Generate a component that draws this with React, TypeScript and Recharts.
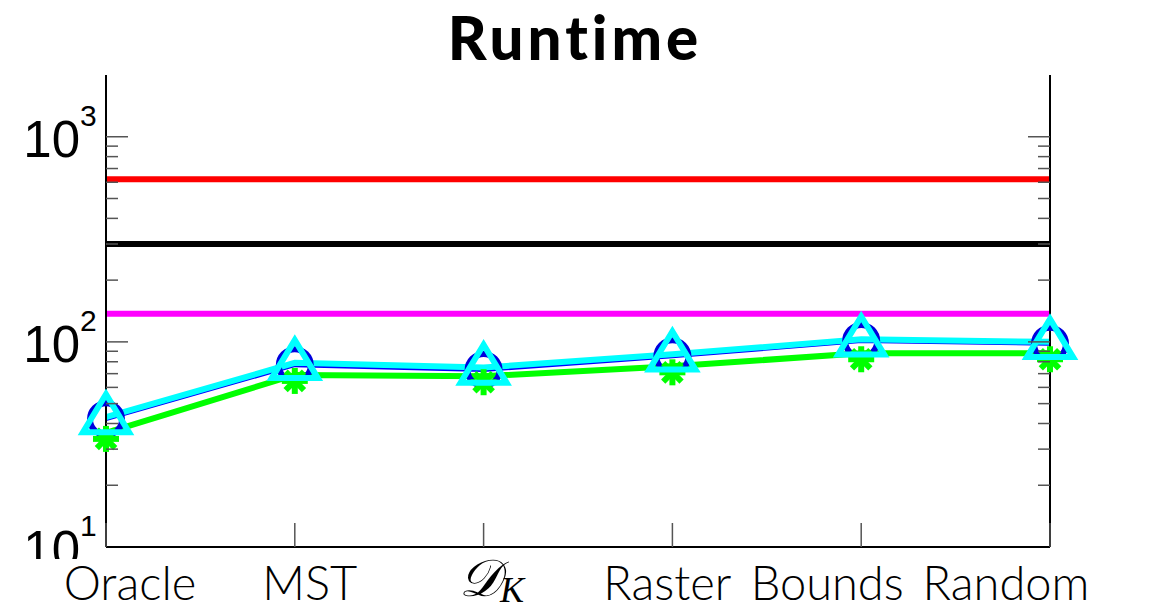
import React from 'react';
import { LineChart, Line, XAxis, YAxis, ReferenceLine } from 'recharts';

const categories = ['Oracle', 'MST', 'DK', 'Raster', 'Bounds', 'Random'];
const blueValues = [42, 77, 73, 85, 101, 98];
const cyanValues = [43, 79, 75, 87, 103, 100];
const greenValues = [36, 69, 68, 76, 88, 88];
const redLevel = 620;
const blackLevel = 300;
const magentaLevel = 137;
const yTicks = [10, 20, 30, 40, 50, 60, 70, 80, 90, 100, 200, 300, 400, 500, 600, 700, 800, 900, 1000];
const majorTicks = [10, 100, 1000];
const yDomain = [10, 2000];

const data = categories.map((c, i) => ({
  cat: c,
  blue: blueValues[i],
  cyan: cyanValues[i],
  green: greenValues[i],
}));

// label horizontal offsets relative to tick (style only)
const labelDx: Record<string, number> = { Oracle: 24, MST: 15, DK: 8, Raster: -5, Bounds: -34, Random: -44 };

const TICK_COLOR = '#555';
const LABEL_FONT = 'Lato, "Open Sans", sans-serif';

const LeftTick = (props: any) => {
  const { x, y, payload } = props;
  const v = payload.value;
  const major = majorTicks.includes(v);
  const exp = Math.round(Math.log10(v));
  const clipId = 'clip-' + v;
  return (
    <g>
      {v !== 10 && (
        <line x1={x} y1={y} x2={x + (major ? 22 : 12)} y2={y} stroke={TICK_COLOR} strokeWidth={1.5} />
      )}
      {major && (
        <g clipPath={v === 10 ? `url(#${clipId})` : undefined}>
          {v === 10 && (
            <defs>
              <clipPath id={clipId}>
                <rect x={0} y={0} width={200} height={y + 12} />
              </clipPath>
            </defs>
          )}
          <text x={x - 26} y={y + 20} textAnchor="end" fontFamily='"Liberation Sans", Arial, sans-serif' fontSize={51} fill="#000">
            10
          </text>
          <text x={x - 26} y={y - 11} textAnchor="start" fontFamily='"Liberation Sans", Arial, sans-serif' fontSize={30} fill="#000">
            {exp}
          </text>
        </g>
      )}
    </g>
  );
};

const RightTick = (props: any) => {
  const { x, y, payload } = props;
  const v = payload.value;
  if (v === 10) return <g />;
  const major = majorTicks.includes(v);
  return <line x1={x} y1={y} x2={x - (major ? 22 : 12)} y2={y} stroke={TICK_COLOR} strokeWidth={1.5} />;
};

const BottomTick = (props: any) => {
  const { x, y, payload } = props;
  const v = payload.value as string;
  const lx = x + (labelDx[v] ?? 0);
  return (
    <g>
      <line x1={x} y1={y} x2={x} y2={y - 24} stroke={TICK_COLOR} strokeWidth={1.5} />
      {v === 'DK' ? (
        <text x={lx} y={y + 49} textAnchor="middle" fill="#000">
          <tspan fontFamily='"DejaVu Serif", serif' fontStyle="italic" fontSize={52}>𝒟</tspan>
          <tspan fontFamily='"Liberation Serif", serif' fontStyle="italic" fontSize={36} dy={6}>K</tspan>
        </text>
      ) : (
        <text x={lx} y={y + 53} textAnchor="middle" fontFamily={LABEL_FONT} fontWeight={300} fontSize={47} fill="#000">
          {v}
        </text>
      )}
    </g>
  );
};

const TopTick = (props: any) => {
  const { x, y } = props;
  return <line x1={x} y1={y} x2={x} y2={y + 23} stroke={TICK_COLOR} strokeWidth={1.5} />;
};

const CircleDot = (props: any) => {
  const { cx, cy, index } = props;
  return <circle key={'c' + index} cx={cx} cy={cy} r={16} fill="none" stroke="#0000dd" strokeWidth={6} />;
};

const TriangleDot = (props: any) => {
  const { cx, cy, index } = props;
  const h = 38;
  const w = 46;
  const pts = `${cx},${cy - h * 0.6} ${cx - w / 2},${cy + h * 0.4} ${cx + w / 2},${cy + h * 0.4}`;
  return <polygon key={'t' + index} points={pts} fill="none" stroke="#00ffff" strokeWidth={6} strokeLinejoin="miter" />;
};

const StarDot = (props: any) => {
  const { cx, cy, index } = props;
  const r = 13;
  const c = cy + 6;
  const d = r * 0.707;
  return (
    <g key={'s' + index} stroke="#00ff00" strokeWidth={6}>
      <line x1={cx} y1={c - r} x2={cx} y2={c + r} />
      <line x1={cx - r} y1={c} x2={cx + r} y2={c} />
      <line x1={cx - d} y1={c - d} x2={cx + d} y2={c + d} />
      <line x1={cx - d} y1={c + d} x2={cx + d} y2={c - d} />
    </g>
  );
};

export default function App() {
  return (
    <div style={{ position: 'absolute', left: 0, top: 0, width: 1162, height: 609, background: '#fff' }}>
      <LineChart width={1162} height={609} data={data} margin={{ top: 75, right: 0, bottom: 0, left: 6 }}>
        <XAxis
          dataKey="cat"
          xAxisId="b"
          interval={0}
          height={62}
          tickSize={0}
          tickMargin={0}
          tickLine={false}
          tick={<BottomTick />}
          axisLine={{ stroke: '#000', strokeWidth: 2 }}
        />
        <XAxis
          dataKey="cat"
          xAxisId="t"
          orientation="top"
          interval={0}
          height={0}
          tickSize={0}
          tickMargin={0}
          tickLine={false}
          tick={<TopTick />}
          axisLine={{ stroke: '#000', strokeWidth: 2 }}
        />
        <YAxis
          yAxisId="l"
          scale="log"
          domain={yDomain}
          ticks={yTicks}
          interval={0}
          allowDataOverflow
          width={100}
          tickSize={0}
          tickMargin={0}
          tickLine={false}
          tick={<LeftTick />}
          axisLine={{ stroke: '#000', strokeWidth: 2 }}
        />
        <YAxis
          yAxisId="r"
          orientation="right"
          scale="log"
          domain={yDomain}
          ticks={yTicks}
          interval={0}
          allowDataOverflow
          width={112}
          tickSize={0}
          tickMargin={0}
          tickLine={false}
          tick={<RightTick />}
          axisLine={{ stroke: '#000', strokeWidth: 2 }}
        />
        <ReferenceLine xAxisId="b" yAxisId="l" y={redLevel} stroke="#ff0000" strokeWidth={6} />
        <ReferenceLine xAxisId="b" yAxisId="l" y={blackLevel} stroke="#000" strokeWidth={6} />
        <ReferenceLine xAxisId="b" yAxisId="l" y={magentaLevel} stroke="#ff00ff" strokeWidth={6} />
        <Line xAxisId="b" yAxisId="l" dataKey="blue" stroke="#0000ff" strokeWidth={4} dot={<CircleDot />} isAnimationActive={false} />
        <Line xAxisId="b" yAxisId="l" dataKey="green" stroke="#00ff00" strokeWidth={6} dot={<StarDot />} isAnimationActive={false} />
        <Line xAxisId="b" yAxisId="l" dataKey="cyan" stroke="#00ffff" strokeWidth={6} dot={<TriangleDot />} isAnimationActive={false} />
      </LineChart>
      <div
        style={{
          position: 'absolute',
          left: 0,
          top: 0,
          width: 1150,
          textAlign: 'center',
          fontFamily: 'Lato, "Open Sans", sans-serif',
          fontWeight: 900,
          fontSize: 60,
          lineHeight: '74px',
          letterSpacing: 4,
          fontVariantLigatures: 'none',
          color: '#000',
          pointerEvents: 'none',
        }}
      >
        Runtime
      </div>
    </div>
  );
}
